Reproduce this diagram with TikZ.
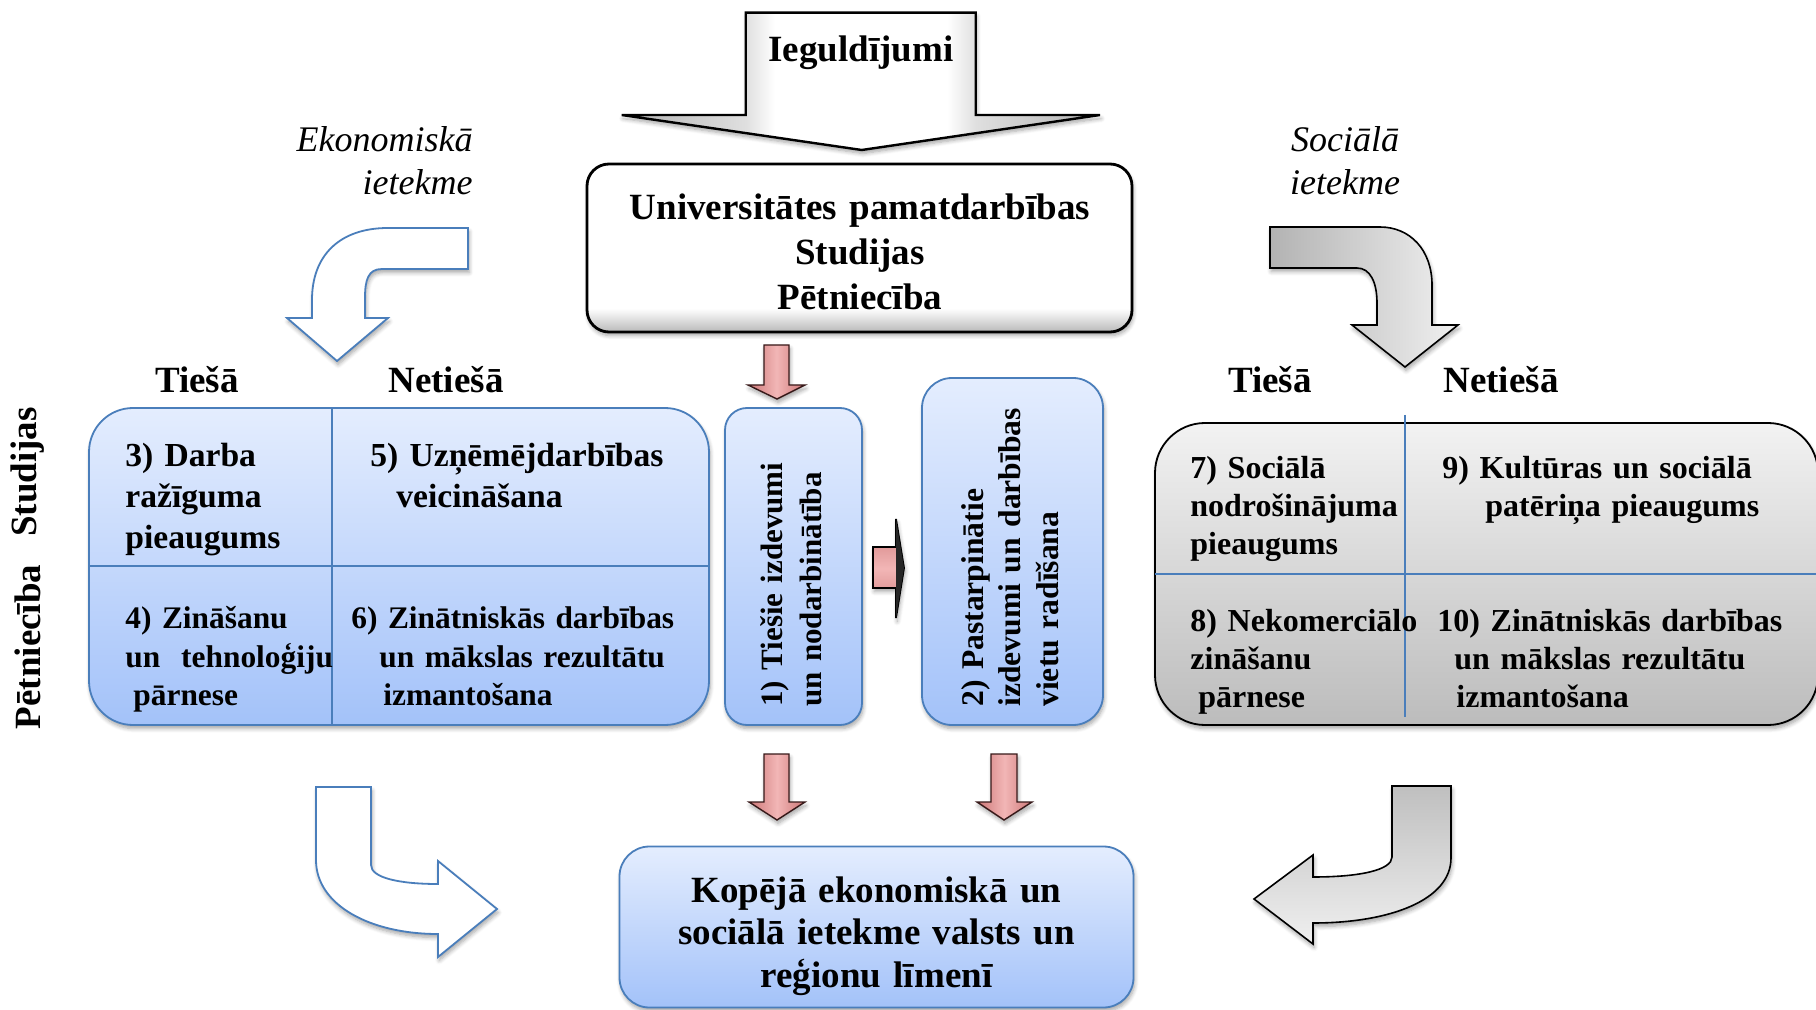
\documentclass[tikz,border=0pt]{standalone}
\usepackage{fontspec}
\setmainfont{Liberation Serif}
\usetikzlibrary{shadows.blur}

\definecolor{bluetop}{RGB}{228,237,254}
\definecolor{bluebot}{RGB}{163,194,249}
\definecolor{blueline}{RGB}{74,126,187}
\definecolor{graytop}{RGB}{242,242,242}
\definecolor{graybot}{RGB}{188,188,188}
\definecolor{pinkfill}{RGB}{204,118,118}
\definecolor{pinklight}{RGB}{242,182,182}
\definecolor{pinkline}{RGB}{55,25,25}

\pgfdeclareverticalshading{bevelv}{100bp}{color(0bp)=(gray!55); color(25bp)=(gray!55); color(32bp)=(white); color(100bp)=(white)}
\pgfdeclarehorizontalshading{bevelh}{100bp}{color(0bp)=(gray!60); color(25bp)=(gray!60); color(38bp)=(gray!25); color(41bp)=(white); color(59bp)=(white); color(62bp)=(gray!25); color(75bp)=(gray!60); color(100bp)=(gray!60)}

\tikzset{
  sh/.style={blur shadow={shadow blur steps=6, shadow xshift=0.6pt, shadow yshift=-1.8pt, shadow opacity=35, shadow blur radius=2pt}},
  bluebox/.style={draw=blueline, line width=0.9pt, top color=bluetop, bottom color=bluebot, sh, inner sep=0pt},
  graybox/.style={draw=black, line width=0.9pt, top color=graytop, bottom color=graybot, sh, inner sep=0pt},
  mainbox/.style={draw=black, line width=1.4pt, rounded corners=11pt, shading=bevelv, sh, inner sep=0pt},
  toparrow/.style={draw=black, line width=1.2pt, shading=bevelh, sh},
  divline/.style={draw=blueline, line width=0.8pt},
  bluearrow/.style={draw=blueline, line width=0.9pt, fill=white, sh},
  grayarrow/.style={draw=black, line width=0.8pt, sh},
  pinkdown/.style={draw=pinkline, line width=0.7pt, left color=pinkfill, right color=pinkfill, middle color=pinklight, sh},
  pinkright/.style={draw=black, line width=0.9pt, top color=pinkfill, bottom color=pinkfill, middle color=pinklight, sh},
  fmain/.style={font=\fontsize{18.5}{22.5}\selectfont\bfseries, inner sep=0pt},
  fbot/.style={font=\fontsize{18.5}{21.25}\selectfont\bfseries, inner sep=0pt},
  flab/.style={font=\fontsize{18.5}{22}\selectfont\bfseries, inner sep=0pt},
  fital/.style={font=\fontsize{18}{21.5}\selectfont\itshape, inner sep=0pt},
  fquadA/.style={font=\fontsize{16.8}{20.5}\selectfont\bfseries, inner sep=0pt},
  fquadB/.style={font=\fontsize{15.7}{19.5}\selectfont\bfseries, inner sep=0pt},
  fquadR/.style={font=\fontsize{16}{19}\selectfont\bfseries, inner sep=0pt},
  fvertA/.style={font=\fontsize{15.5}{19.5}\selectfont\bfseries, inner sep=0pt},
  fvertB/.style={font=\fontsize{15.8}{18.8}\selectfont\bfseries, inner sep=0pt},
}

\begin{document}
\begin{tikzpicture}[x=0.5pt,y=-0.5pt]
\useasboundingbox (0,0) rectangle (1816,1010);

% top arrow "Ieguldijumi"
\path[toparrow] (745.7,12.7) -- (975.7,12.7) -- (975.7,115) -- (1100,115) -- (861.7,150) -- (621.7,115) -- (745.7,115) -- cycle;
\node[fmain, anchor=base] (ieg) at (861,62) {Ieguldījumi};

% main box
\node[mainbox, minimum width=272.5pt, minimum height=84pt] (univ) at (859.5,248) {};
\node[fmain, align=center, text width=270pt, anchor=base] (univtxt) at (860,220) {Universitātes pamatdarbības\\Studijas\\Pētniecība};

% italic labels
\node[fital, align=right, text width=120pt, anchor=base east] (eko) at (473,152) {Ekonomiskā\\ietekme};
\node[fital, align=center, text width=120pt, anchor=base] (soc) at (1345,152) {Sociālā\\ietekme};

% top curved arrows
\path[bluearrow] (468,228) -- (388,228) .. controls (340,228) and (312,255) .. (312,300) -- (312,318) -- (287,318) -- (337,361) -- (388,318) -- (365,318) -- (365,298) .. controls (365,280) and (368,269) .. (382,269) -- (468,269) -- cycle;
\path[grayarrow, left color=gray!60, right color=gray!12] (1270,227) -- (1380,227) .. controls (1410,227) and (1432,250) .. (1432,285) -- (1432,325) -- (1458,325) -- (1405,367) -- (1352,325) -- (1377,325) -- (1377,303) .. controls (1377,282) and (1370,268) .. (1357,268) -- (1270,268) -- cycle;

% column labels
\node[flab, anchor=base] (t1) at (197,393) {Tiešā};
\node[flab, anchor=base] (n1) at (446,393) {Netiešā};
\node[flab, anchor=base] (t2) at (1270,393) {Tiešā};
\node[flab, anchor=base] (n2) at (1501,393) {Netiešā};

% row labels
\node[flab, rotate=90] (stud) at (28,472) {Studijas};
\node[flab, rotate=90] (petn) at (28,647) {Pētniecība};

% left quadrant box
\node[bluebox, rounded corners=22pt, minimum width=310pt, minimum height=158.5pt] (lq) at (399,566.5) {};
\draw[divline] (332,408) -- (332,725);
\draw[divline] (89.5,566) -- (709,566);
\node[fquadA, text width=120pt, align=left, anchor=base west] (q3) at (125,467) {3) Darba\\ražīguma\\pieaugums};
\node[fquadA, text width=170pt, align=left, anchor=base west] (q5) at (370,467) {5) Uzņēmējdarbības\\\hspace*{13pt}veicināšana};
\node[fquadB, text width=120pt, align=left, anchor=base west] (q4) at (125,628) {4) Zināšanu\\un\ \ tehnoloģiju\\\hspace*{4pt}pārnese};
\node[fquadB, text width=180pt, align=left, anchor=base west] (q6) at (351,628) {6) Zinātniskās darbības\\\hspace*{14pt}un mākslas rezultātu\\\hspace*{16pt}izmantošana};

% middle vertical boxes
\node[bluebox, rounded corners=11pt, minimum width=68.5pt, minimum height=158.5pt] (b1) at (793.5,566.5) {};
\node[fvertA, rotate=90, text width=150pt, align=left, anchor=base west] (b1t) at (782,707) {1) Tiešie izdevumi\\un nodarbinātība};
\node[bluebox, rounded corners=15pt, minimum width=90.5pt, minimum height=173.5pt] (b2) at (1012.5,551.5) {};
\node[fvertB, rotate=90, text width=170pt, align=left, anchor=base west] (b2t) at (983,707) {2) Pastarpinātie\\izdevumi un darbības\\vietu radīšana};

% pink arrows
\path[pinkdown] (764,345) -- (789,345) -- (789,385) -- (805,385) -- (777,399) -- (748,385) -- (764,385) -- cycle;
\path[pinkright] (873,547) -- (896,547) -- (896,519) -- (904,568) -- (896,618) -- (896,588) -- (873,588) -- cycle;
\fill[black!85] (896,519) -- (904,568) -- (896,618) -- cycle;
\path[pinkdown] (764,754) -- (789,754) -- (789,802) -- (805,802) -- (777,820) -- (749,802) -- (764,802) -- cycle;
\path[pinkdown] (991,754) -- (1017,754) -- (1017,802) -- (1032,802) -- (1004,820) -- (977,802) -- (991,802) -- cycle;

% right quadrant box
\node[graybox, rounded corners=25pt, minimum width=331.5pt, minimum height=151pt] (rq) at (1486.5,574) {};
\draw[divline] (1405,415) -- (1405,717);
\draw[divline] (1155,574) -- (1816,574);
\node[fquadR, text width=120pt, align=left, anchor=base west] (q7) at (1190,479) {7) Sociālā\\nodrošinājuma\\pieaugums};
\node[fquadR, text width=180pt, align=left, anchor=base west] (q9) at (1442,479) {9) Kultūras un sociālā\\\hspace*{21.5pt}patēriņa pieaugums};
\node[fquadR, text width=120pt, align=left, anchor=base west] (q8) at (1190,632) {8) Nekomerciālo\\zināšanu\\\hspace*{4pt}pārnese};
\node[fquadR, text width=190pt, align=left, anchor=base west] (q10) at (1437,632) {10) Zinātniskās darbības\\\hspace*{8.5pt}un mākslas rezultātu\\\hspace*{9.5pt}izmantošana};

% bottom curved arrows
\path[bluearrow] (316,787) -- (371,787) -- (371,865) .. controls (371,878) and (400,884) .. (438,884) -- (438,861) -- (497,909) -- (438,957) -- (438,934) .. controls (370,934) and (316,905) .. (316,860) -- cycle;
\path[grayarrow, top color=gray!50, bottom color=gray!12] (1392,786) -- (1451,786) -- (1451,858) .. controls (1451,900) and (1390,923) .. (1313,923) -- (1313,944) -- (1254,899) -- (1313,855) -- (1313,877) .. controls (1360,877) and (1392,870) .. (1392,857) -- cycle;

% bottom box
\node[bluebox, rounded corners=15pt, minimum width=257pt, minimum height=80.5pt] (kop) at (876.5,927) {};
\node[fbot, text width=255pt, align=center, anchor=base] (koptxt) at (876.5,902) {Kopējā ekonomiskā un\\sociālā ietekme valsts un\\reģionu līmenī};
\end{tikzpicture}
\end{document}
